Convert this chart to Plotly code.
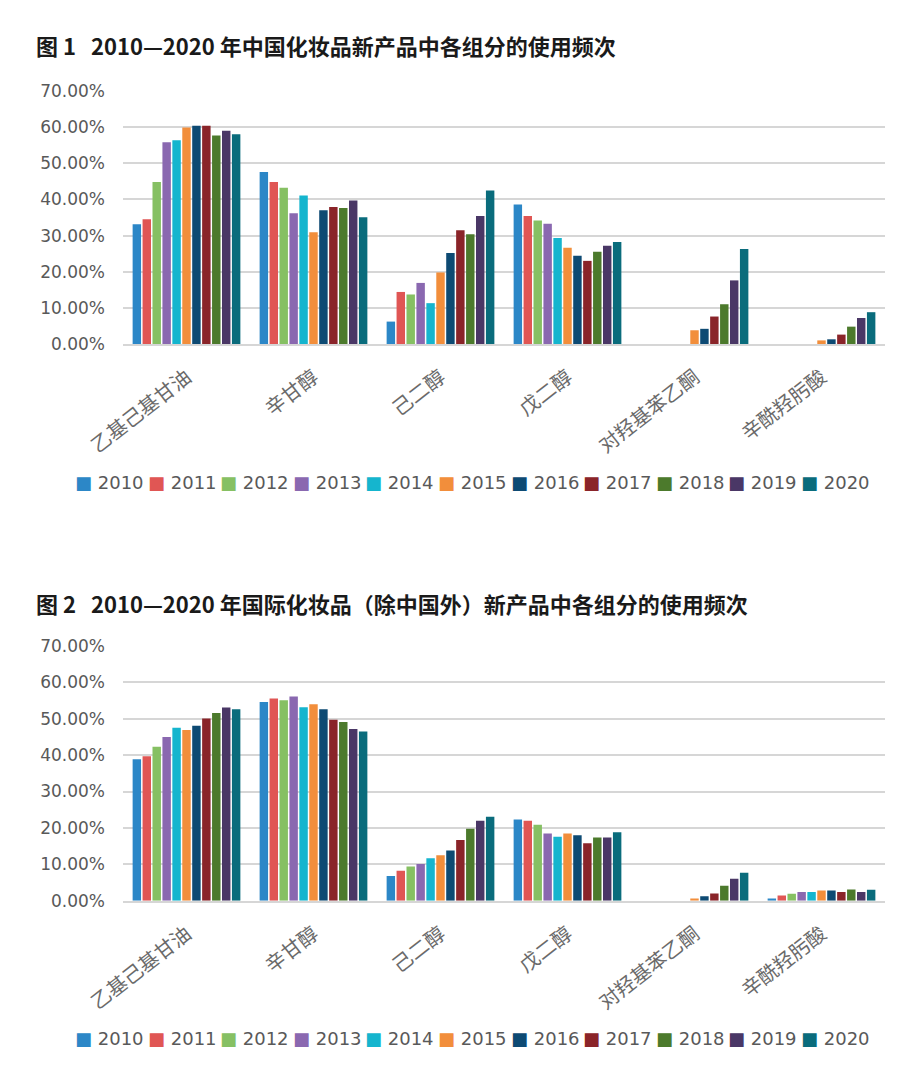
import plotly.graph_objects as go

years = ["2010", "2011", "2012", "2013", "2014", "2015", "2016", "2017", "2018", "2019", "2020"]
categories = ["乙基己基甘油", "辛甘醇", "己二醇", "戊二醇", "对羟基苯乙酮", "辛酰羟肟酸"]
colors = ["#2C87C7", "#E05654", "#86C063", "#8A68B0", "#15B5CE", "#F28E3B",
          "#0D4A73", "#8A2429", "#4C7A2C", "#4A3766", "#0A6C7C"]

title1 = "图 1\u00a0\u00a0\u00a02010—2020 年中国化妆品新产品中各组分的使用频次"
title2 = "图 2\u00a0\u00a0\u00a02010—2020 年国际化妆品（除中国外）新产品中各组分的使用频次"

# Chart 1 (China), values in %, one list per ingredient over 2010..2020
cn_ehg = [33.1, 34.5, 44.8, 55.8, 56.4, 59.9, 60.4, 60.4, 57.7, 59.0, 58.0]
cn_capryl = [47.6, 44.8, 43.2, 36.2, 41.1, 30.9, 37.0, 37.9, 37.6, 39.7, 35.1]
cn_hexane = [6.2, 14.4, 13.7, 16.9, 11.3, 19.8, 25.2, 31.5, 30.4, 35.4, 42.5]
cn_pentane = [38.6, 35.4, 34.2, 33.3, 29.3, 26.6, 24.4, 23.0, 25.5, 27.2, 28.2]
cn_hap = [None, None, None, None, None, 3.8, 4.2, 7.6, 11.0, 17.6, 26.3]
cn_cha = [None, None, None, None, None, 1.0, 1.3, 2.6, 4.8, 7.2, 8.8]

# Chart 2 (international excluding China)
intl_ehg = [38.9, 39.7, 42.3, 45.0, 47.5, 46.9, 48.1, 50.1, 51.6, 53.1, 52.6]
intl_capryl = [54.6, 55.6, 55.1, 56.1, 53.2, 54.0, 52.6, 49.7, 49.1, 47.2, 46.5]
intl_hexane = [6.8, 8.2, 9.4, 10.1, 11.7, 12.5, 13.8, 16.7, 19.8, 22.0, 23.1]
intl_pentane = [22.3, 22.0, 20.9, 18.5, 17.6, 18.5, 18.0, 15.8, 17.4, 17.4, 18.8]
intl_hap = [None, None, None, None, None, 0.6, 1.2, 2.0, 4.1, 6.0, 7.7]
intl_cha = [0.6, 1.4, 1.9, 2.4, 2.4, 2.8, 2.8, 2.4, 3.1, 2.4, 3.0]

cn_rows = [cn_ehg, cn_capryl, cn_hexane, cn_pentane, cn_hap, cn_cha]
intl_rows = [intl_ehg, intl_capryl, intl_hexane, intl_pentane, intl_hap, intl_cha]

# page body has an 8px default margin; figure sized to fit inside the window
OFF = 8
W, H = 902, 1060
CJK = "Noto Sans CJK SC"
LAT = "DejaVu Sans"
GRAY = "#595959"


def px_x(p):
    return (p - OFF) / W


def px_y(p):
    return 1 - (p - OFF) / H


fig = go.Figure()

for i, y in enumerate(years):
    fig.add_trace(go.Bar(
        x=categories, y=[row[i] for row in cn_rows], name=y,
        marker=dict(color=colors[i], line=dict(width=0)),
        xaxis="x", yaxis="y", showlegend=False))
for i, y in enumerate(years):
    fig.add_trace(go.Bar(
        x=categories, y=[row[i] for row in intl_rows], name=y,
        marker=dict(color=colors[i], line=dict(width=0)),
        xaxis="x2", yaxis="y2", showlegend=False))

xdom = [px_x(123), px_x(885)]
yaxis_common = dict(range=[0, 70], dtick=10, tickformat=".2f", ticksuffix="%",
                    showgrid=True, gridcolor="#D6D6D6", gridwidth=1.8,
                    zeroline=False, showline=False,
                    tickfont=dict(family=LAT, size=17, color=GRAY),
                    ticks="", ticklabelstandoff=17, automargin=False)
xaxis_common = dict(showline=True, linecolor="#D6D6D6", linewidth=1.8,
                    tickangle=-38, ticks="", showgrid=False,
                    tickfont=dict(family=CJK, size=20, color="#6A6A6A"),
                    ticklabelstandoff=12, automargin=False)

annotations = [
    dict(text="<b>" + title1 + "</b>", x=px_x(34), y=px_y(45), xref="paper", yref="paper",
         xanchor="left", yanchor="middle", showarrow=False,
         font=dict(family=CJK, size=22, color="#1a1a1a")),
    dict(text="<b>" + title2 + "</b>", x=px_x(34), y=px_y(603), xref="paper", yref="paper",
         xanchor="left", yanchor="middle", showarrow=False,
         font=dict(family=CJK, size=22, color="#1a1a1a")),
]

# legends (one row per chart), text entries with colored square keys
for ly in (482, 1038):
    for i, y in enumerate(years):
        annotations.append(dict(
            text='<span style="color:%s">■</span> %s' % (colors[i], y),
            x=px_x(73 + 72.6 * i), y=px_y(ly), xref="paper", yref="paper",
            xanchor="left", yanchor="middle", showarrow=False,
            font=dict(family=LAT, size=18, color=GRAY)))

fig.update_layout(
    width=W, height=H,
    margin=dict(l=0, r=0, t=0, b=0),
    paper_bgcolor="white", plot_bgcolor="white",
    barmode="group", bargap=0.14, bargroupgap=0.15,
    xaxis=dict(domain=xdom, anchor="y", **xaxis_common),
    yaxis=dict(domain=[px_y(344), px_y(91)], anchor="x", **yaxis_common),
    xaxis2=dict(domain=xdom, anchor="y2", **xaxis_common),
    yaxis2=dict(domain=[px_y(900.7), px_y(646)], anchor="x2", **yaxis_common),
    annotations=annotations,
)

fig.write_html("out.html")
